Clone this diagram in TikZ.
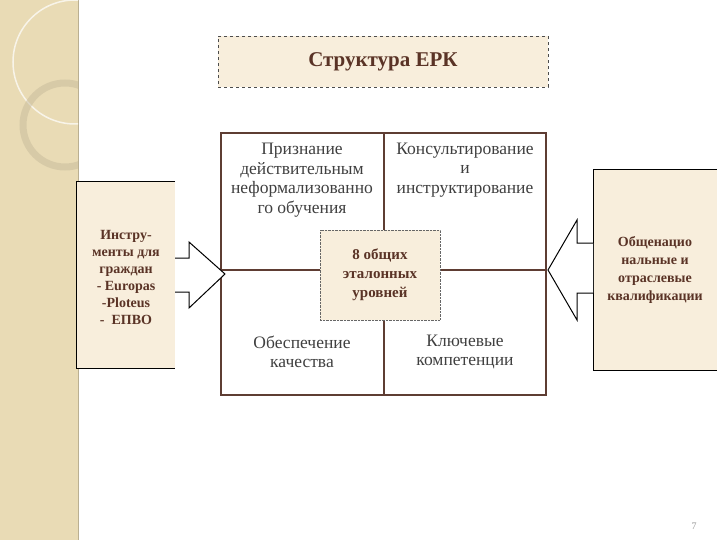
\documentclass[tikz,border=0pt]{standalone}
\usepackage{fontspec}
\setmainfont{Liberation Serif}
\begin{document}
\begin{tikzpicture}[x=1pt,y=-1pt,
  txt/.style={align=center,font=\fontsize{17.5}{19.5}\selectfont,text=black!75,inner sep=0pt},
  btxt/.style={align=center,font=\bfseries\fontsize{15}{19}\selectfont,text=tbrown,inner sep=0pt}]
\definecolor{strip}{HTML}{E9DBB5}
\definecolor{paper}{HTML}{F8EEDC}
\definecolor{tbrown}{HTML}{5A3326}
\definecolor{gridc}{HTML}{5E3D33}
\useasboundingbox (0,0) rectangle (720,540);
\fill[white] (0,0) rectangle (720,540);
% strip
\fill[strip] (0,0) rectangle (78,540);
\draw[strip!80!black] (78,0) -- (78,540);
\begin{scope}
\clip (0,0) rectangle (78,540);
\draw[white!70!strip,line width=1.5pt] (75,62) circle (62);
\draw[strip!85!black,line width=7pt,opacity=.5] (65,125) circle (42);
\end{scope}
% title
\node[draw=black!70,dashed,fill=paper,minimum width=330,minimum height=51,
  font=\bfseries\fontsize{21}{22}\selectfont,text=tbrown] (title) at (383,62) {Структура ЕРК};
% grid
\coordinate (nw) at (221,133); \coordinate (se) at (546,395);
\draw[draw=gridc,line width=2.5pt] (nw) rectangle (se);
\draw[draw=gridc,line width=2.5pt] (384,133) -- (384,395);
\draw[draw=gridc,line width=2.5pt] (221,270) -- (546,270);
\node[txt] (q1) at (302,180) {Признание\\действительным\\неформализованно\\го обучения};
\node[txt] (q2) at (465,170) {Консультирование\\и\\инструктирование};
\node[txt] (q3) at (302,352) {Обеспечение\\качества};
\node[txt] (q4) at (465,352) {Ключевые\\компетенции};
\node[draw=black!60,densely dotted,fill=paper,minimum width=120,minimum height=90,btxt] (c) at (380,275) {8 общих\\эталонных\\уровней};
% left box
\node[fill=paper,minimum width=98,minimum height=186] (lb) at (126,275) {};
\draw[black,line width=1pt] (lb.north east) -- (lb.north west) -- (lb.south west) -- (lb.south east);
\node[btxt,font=\bfseries\fontsize{14}{17}\selectfont] (lt) at (126,277) {Инстру-\\менты для\\граждан\\- Europas\\-Ploteus\\-\ \ ЕПВО};
% left arrow
\coordinate (la) at (225,274);
\draw[black,line width=1pt,fill=white] (175,258) -- (189,258) -- (189,242) -- (la) -- (189,308) -- (189,292) -- (175,292);
% right box
\node[fill=paper,minimum width=123,minimum height=200] (rb) at (655,270) {};
\draw[black,line width=1pt] (rb.north east) -- (rb.north west) -- (rb.south west) -- (rb.south east);
\node[btxt,font=\bfseries\fontsize{14}{18}\selectfont] (rt) at (655,270) {Общенацио\\нальные и\\отраслевые\\квалификации};
% right arrow
\coordinate (ra) at (548,270);
\draw[black,line width=1pt,fill=white] (593,243) -- (577,243) -- (577,220) -- (ra) -- (577,320) -- (577,293) -- (593,293);
\node[text=black!40,font=\fontsize{10}{11}\selectfont] (pn) at (694,526) {7};
\end{tikzpicture}
\end{document}
